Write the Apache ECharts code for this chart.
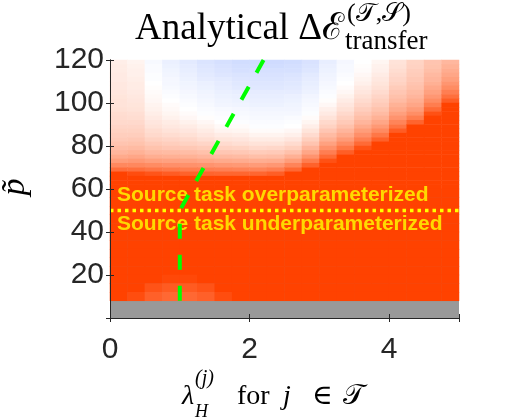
<!DOCTYPE html>
<html>
<head>
<meta charset="utf-8">
<script src="https://cdn.jsdelivr.net/npm/echarts@6/dist/echarts.min.js"></script>
<style>
  html, body { margin: 0; padding: 0; background: #fff; }
  #chart { width: 508px; height: 420px; }
</style>
</head>
<body>
<div id="chart"></div>
<script>
// cell centres of the image (lambda_H on x, p~ on y)
const lambdaBands = [0.125, 0.375, 0.625, 0.875, 1.125, 1.375, 1.625, 1.875, 2.125, 2.375,
                     2.625, 2.875, 3.125, 3.375, 3.625, 3.875, 4.125, 4.375, 4.625, 4.875]
// upper part (p~ 60..120) is read every 2, lower part (p~ 0..60) every 4
const pBandsHigh = [61, 63, 65, 67, 69, 71, 73, 75, 77, 79, 81, 83, 85, 87, 89,
                    91, 93, 95, 97, 99, 101, 103, 105, 107, 109, 111, 113, 115, 117, 119]
const pBandsLow = [2, 6, 10, 14, 18, 22, 26, 30, 34, 38, 42, 46, 50, 54, 58]

// analytical transfer gain, % of colour range (clipped at 100), top row first
const deltaEHigh = [
  [9, 6, -3, -8, -11, -14, -16, -18, -19, -19, -18, -15, -9, -4, 0, 5, 15, 23, 31, 38],
  [10, 7, -2, -7, -10, -13, -15, -17, -18, -18, -17, -14, -8, -3, 1, 7, 16, 24, 32, 41],
  [10, 8, -2, -6, -9, -12, -14, -16, -16, -16, -16, -13, -7, -3, 2, 8, 18, 26, 34, 44],
  [11, 8, -1, -5, -8, -11, -13, -14, -15, -15, -14, -11, -6, -2, 4, 10, 20, 27, 37, 47],
  [11, 9, -1, -4, -7, -10, -11, -13, -14, -14, -13, -10, -5, -1, 6, 12, 22, 29, 39, 51],
  [12, 10, 0, -4, -6, -8, -10, -12, -13, -13, -12, -9, -4, 0, 8, 14, 24, 31, 42, 56],
  [12, 10, 1, -3, -5, -7, -9, -11, -12, -12, -11, -8, -3, 2, 11, 16, 27, 33, 46, 61],
  [13, 11, 2, -2, -4, -6, -8, -9, -10, -10, -10, -7, -2, 4, 13, 19, 30, 36, 50, 68],
  [14, 12, 3, -1, -3, -5, -7, -8, -9, -9, -8, -5, -1, 7, 16, 22, 33, 39, 55, 76],
  [15, 13, 4, 0, -2, -4, -6, -7, -8, -8, -7, -4, 1, 10, 19, 25, 36, 43, 61, 86],
  [15, 14, 6, 2, -1, -3, -5, -6, -7, -7, -6, -3, 4, 13, 22, 28, 41, 47, 69, 100],
  [16, 15, 7, 3, 0, -2, -3, -4, -5, -5, -5, -2, 8, 16, 26, 32, 45, 53, 79, 100],
  [18, 17, 9, 5, 2, -1, -2, -3, -4, -4, -4, -1, 11, 20, 30, 36, 51, 60, 92, 100],
  [19, 18, 11, 7, 4, 1, -1, -2, -3, -3, -2, 2, 15, 24, 34, 41, 57, 69, 100, 100],
  [20, 20, 13, 10, 7, 4, 0, -1, -2, -2, -1, 5, 20, 28, 39, 47, 65, 82, 100, 100],
  [22, 22, 15, 12, 10, 7, 3, 2, -1, -1, 0, 9, 24, 33, 45, 54, 74, 100, 100, 100],
  [24, 24, 18, 15, 13, 10, 6, 5, 2, 2, 4, 14, 30, 39, 52, 62, 86, 100, 100, 100],
  [26, 26, 20, 18, 16, 13, 10, 9, 6, 6, 8, 19, 36, 45, 59, 72, 100, 100, 100, 100],
  [28, 29, 24, 22, 20, 17, 14, 13, 10, 10, 13, 25, 42, 53, 68, 84, 100, 100, 100, 100],
  [31, 32, 28, 26, 24, 22, 19, 17, 15, 15, 19, 31, 50, 62, 79, 100, 100, 100, 100, 100],
  [35, 36, 32, 30, 29, 27, 24, 23, 20, 21, 25, 39, 58, 72, 92, 100, 100, 100, 100, 100],
  [39, 41, 37, 36, 35, 33, 30, 29, 27, 28, 33, 47, 68, 85, 100, 100, 100, 100, 100, 100],
  [45, 47, 43, 42, 41, 39, 37, 36, 34, 35, 42, 57, 79, 100, 100, 100, 100, 100, 100, 100],
  [52, 54, 51, 50, 49, 47, 45, 44, 43, 44, 52, 69, 92, 100, 100, 100, 100, 100, 100, 100],
  [63, 63, 61, 59, 58, 57, 55, 54, 53, 55, 65, 83, 100, 100, 100, 100, 100, 100, 100, 100],
  [77, 76, 73, 71, 69, 68, 67, 66, 65, 68, 80, 100, 100, 100, 100, 100, 100, 100, 100, 100],
  [100, 94, 90, 86, 83, 82, 81, 81, 81, 85, 100, 100, 100, 100, 100, 100, 100, 100, 100, 100],
  [100, 100, 100, 100, 100, 100, 100, 100, 100, 100, 100, 100, 100, 100, 100, 100, 100, 100, 100, 100],
  [100, 100, 100, 100, 100, 100, 100, 100, 100, 100, 100, 100, 100, 100, 100, 100, 100, 100, 100, 100],
  [100, 100, 100, 100, 100, 100, 100, 100, 100, 100, 100, 100, 100, 100, 100, 100, 100, 100, 100, 100]
]
// p~ = 58 down to 10; below p~ = 8 the quantity is undefined (grey)
const deltaELow = [
  [100, 100, 100, 100, 100, 100, 100, 100, 100, 100, 100, 100, 100, 100, 100, 100, 100, 100, 100, 100],
  [100, 100, 100, 100, 100, 100, 100, 100, 100, 100, 100, 100, 100, 100, 100, 100, 100, 100, 100, 100],
  [100, 100, 100, 100, 100, 100, 100, 100, 100, 100, 100, 100, 100, 100, 100, 100, 100, 100, 100, 100],
  [100, 100, 100, 100, 100, 100, 100, 100, 100, 100, 100, 100, 100, 100, 100, 100, 100, 100, 100, 100],
  [100, 100, 100, 100, 100, 100, 100, 100, 100, 100, 100, 100, 100, 100, 100, 100, 100, 100, 100, 100],
  [100, 100, 100, 100, 100, 100, 100, 100, 100, 100, 100, 100, 100, 100, 100, 100, 100, 100, 100, 100],
  [100, 100, 100, 100, 100, 100, 100, 100, 100, 100, 100, 100, 100, 100, 100, 100, 100, 100, 100, 100],
  [100, 100, 100, 100, 100, 100, 100, 100, 100, 100, 100, 100, 100, 100, 100, 100, 100, 100, 100, 100],
  [100, 100, 100, 100, 100, 100, 100, 100, 100, 100, 100, 100, 100, 100, 100, 100, 100, 100, 100, 100],
  [100, 100, 100, 100, 100, 100, 100, 100, 100, 100, 100, 100, 100, 100, 100, 100, 100, 100, 100, 100],
  [100, 100, 100, 97, 97, 100, 100, 100, 100, 100, 100, 100, 100, 100, 100, 100, 100, 100, 100, 100],
  [100, 100, 91, 87, 87, 91, 100, 100, 100, 100, 100, 100, 100, 100, 100, 100, 100, 100, 100, 100],
  [100, 94, 84, 80, 80, 84, 94, 100, 100, 100, 100, 100, 100, 100, 100, 100, 100, 100, 100, 100]
]

// green dashed boundary and yellow dotted p~ = 50 line
const boundaryLine = [[1, 8], [1, 50], [2.2, 120]]
const regimeLine = [[0, 50], [5, 50]]
const regimeLabels = [
  { name: 'Source task overparameterized', value: [0.1, 57] },
  { name: 'Source task underparameterized', value: [0.1, 43.5] }
]

const xTickLabels = [0, 2, 4]
const yTickLabels = [20, 40, 60, 80, 100, 120]

const toCells = (rows, bands) => {
  const cells = []
  rows.forEach((row, i) => {
    const yi = bands.length - 1 - i
    row.forEach((v, xi) => cells.push([xi, yi, v]))
  })
  return cells
}

const axisColor = '#262626'
const frameAxis = (extra) => Object.assign({
  gridIndex: 2,
  type: 'value',
  z: 5,
  axisLine: { lineStyle: { color: axisColor, width: 1 } },
  axisTick: { inside: true, length: 4, lineStyle: { color: axisColor } },
  splitLine: { show: false },
  axisLabel: { show: false }
}, extra)

const tickLabel = (list) => ({
  fontFamily: 'Liberation Sans, Arial',
  fontSize: 30,
  color: axisColor,
  formatter: v => (list.includes(v) ? String(v) : '')
})

const heatSeries = (idx, rows, bands) => ({
  type: 'heatmap',
  xAxisIndex: idx,
  yAxisIndex: idx,
  data: toCells(rows, bands),
  progressive: 0,
  itemStyle: { borderWidth: 0 },
  emphasis: { disabled: true }
})

const serif = '"Liberation Serif", "DejaVu Serif", serif'
const txt = (x, y, text, font, extra) => ({
  type: 'text', x, y,
  style: Object.assign({ text, font: font + ' ' + serif, fill: '#000', verticalAlign: 'middle' }, extra || {})
})

const chart = echarts.init(document.getElementById('chart'))
chart.setOption({
  animation: false,
  backgroundColor: '#ffffff',
  grid: [
    { left: 110, right: 49, top: 60, bottom: 231 },
    { left: 110, right: 49, top: 189, bottom: 102, show: true, backgroundColor: '#999999', borderWidth: 0 },
    { left: 110, right: 49, top: 60, bottom: 102 }
  ],
  xAxis: [
    { gridIndex: 0, type: 'category', data: lambdaBands, show: false },
    { gridIndex: 1, type: 'category', data: lambdaBands, show: false },
    frameAxis({ min: 0, max: 5, interval: 2, position: 'bottom',
      axisLabel: Object.assign(tickLabel(xTickLabels), { margin: 17 }) }),
    frameAxis({ min: 0, max: 5, interval: 2, position: 'top' })
  ],
  yAxis: [
    { gridIndex: 0, type: 'category', data: pBandsHigh, show: false },
    { gridIndex: 1, type: 'category', data: pBandsLow, show: false },
    frameAxis({ min: 0, max: 120, interval: 20, position: 'left',
      axisLabel: Object.assign(tickLabel(yTickLabels), { margin: 6 }) }),
    frameAxis({ min: 0, max: 120, interval: 20, position: 'right' })
  ],
  visualMap: {
    type: 'continuous',
    show: false,
    seriesIndex: [0, 1],
    min: -100,
    max: 100,
    inRange: { color: ['#0040ff', '#ffffff', '#ff4200'] }
  },
  series: [
    heatSeries(0, deltaEHigh, pBandsHigh),
    heatSeries(1, deltaELow, pBandsLow),
    {
      type: 'line',
      xAxisIndex: 2,
      yAxisIndex: 2,
      data: boundaryLine,
      symbol: 'none',
      silent: true,
      lineStyle: { color: '#00ff00', width: 4, type: [15, 16], cap: 'butt' }
    },
    {
      type: 'line',
      xAxisIndex: 2,
      yAxisIndex: 2,
      data: regimeLine,
      symbol: 'none',
      silent: true,
      lineStyle: { color: '#ffff00', width: 3.5, type: [3.5, 4], cap: 'butt' }
    },
    {
      type: 'scatter',
      xAxisIndex: 2,
      yAxisIndex: 2,
      data: regimeLabels,
      symbolSize: 0,
      silent: true,
      label: {
        show: true,
        position: 'right',
        distance: 0,
        formatter: '{b}',
        color: '#ffff00',
        fontFamily: 'Liberation Sans, Arial',
        fontWeight: 'bold',
        fontSize: 21
      }
    }
  ],
  graphic: [
    // title: Analytical ΔE^(T,S)_transfer
    txt(135, 29, 'Analytical Δℰ', '37px'),
    txt(347, 14, '(𝒯,𝒮)', '26px'),
    txt(345, 42, 'transfer', '27px'),
    // x label: λ_H^(j) for j ∈ T
    txt(182, 397, 'λ', 'italic 28px'),
    txt(195, 379, '(j)', 'italic 20px'),
    txt(195, 412, 'H', 'italic 18px'),
    txt(237, 397, 'for', '28px'),
    txt(283, 397, 'j', 'italic 28px'),
    txt(312, 397, '∈', '28px'),
    txt(343, 397, '𝒯', '28px'),
    // y label: p~
    Object.assign(txt(15, 187, 'p\u0303', 'italic 34px', { align: 'center' }), { rotation: Math.PI / 2 })
  ]
})
</script>
</body>
</html>
